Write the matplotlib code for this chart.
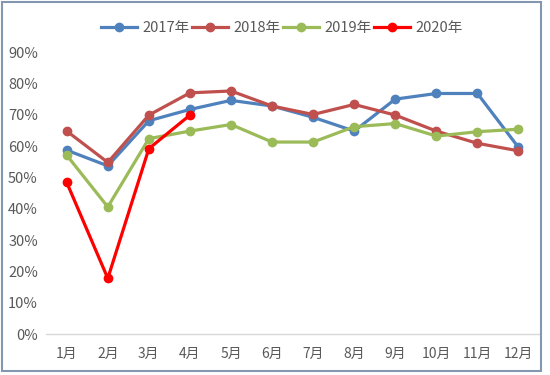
import matplotlib.pyplot as plt
from matplotlib.patches import Rectangle
from matplotlib.ticker import FuncFormatter

plt.rcParams['font.family'] = ['Noto Sans CJK SC', 'DejaVu Sans']

# --- Datos ---
months = ['1月', '2月', '3月', '4月', '5月', '6月', '7月', '8月', '9月', '10月', '11月', '12月']
rate_2017 = [0.587, 0.537, 0.681, 0.717, 0.746, 0.728, 0.692, 0.648, 0.750, 0.768, 0.768, 0.596]
rate_2018 = [0.648, 0.548, 0.699, 0.770, 0.776, 0.728, 0.701, 0.733, 0.699, 0.648, 0.609, 0.585]
rate_2019 = [0.571, 0.406, 0.624, 0.648, 0.669, 0.613, 0.613, 0.662, 0.672, 0.632, 0.646, 0.654]
rate_2020 = [0.484, 0.178, 0.592, 0.699]

series = [
    ('2017年', rate_2017, '#4F81BD'),
    ('2018年', rate_2018, '#C0504D'),
    ('2019年', rate_2019, '#9BBB59'),
    ('2020年', rate_2020, '#FF0000'),
]

fig = plt.figure(figsize=(5.5, 3.75), dpi=100)
ax = fig.add_axes([0.084, 0.109, 0.896, 0.752])

x = list(range(len(months)))
for label, values, color in series:
    ax.plot(x[:len(values)], values, color=color, linewidth=2.3,
            marker='o', markersize=6, label=label)

ax.set_xlim(-0.5, len(months) - 0.5)
ax.set_ylim(0, 0.9)
ax.set_yticks([i / 10 for i in range(10)])
ax.yaxis.set_major_formatter(FuncFormatter(lambda v, _: f'{v * 100:.0f}%'))
ax.set_xticks(x)
ax.set_xticklabels(months)

text_color = '#595959'
ax.tick_params(axis='both', length=0, colors=text_color)
ax.tick_params(axis='x', pad=9, labelsize=10)
ax.tick_params(axis='y', pad=6, labelsize=10.5)
for side in ['top', 'right', 'left']:
    ax.spines[side].set_visible(False)
ax.spines['bottom'].set_color('#D9D9D9')
ax.spines['bottom'].set_linewidth(1)

leg = fig.legend(loc='center', bbox_to_anchor=(0.512, 0.925), ncol=4, frameon=False,
                 fontsize=10.5, handlelength=2.5, columnspacing=0.15, handletextpad=0.35)
for t in leg.get_texts():
    t.set_color(text_color)

# marco exterior del gráfico
fig.patches.append(Rectangle((0.004, 0.012), 0.98, 0.982, transform=fig.transFigure,
                             fill=False, edgecolor='#8497B0', linewidth=1.5))

fig.savefig('out.png', dpi=100)
